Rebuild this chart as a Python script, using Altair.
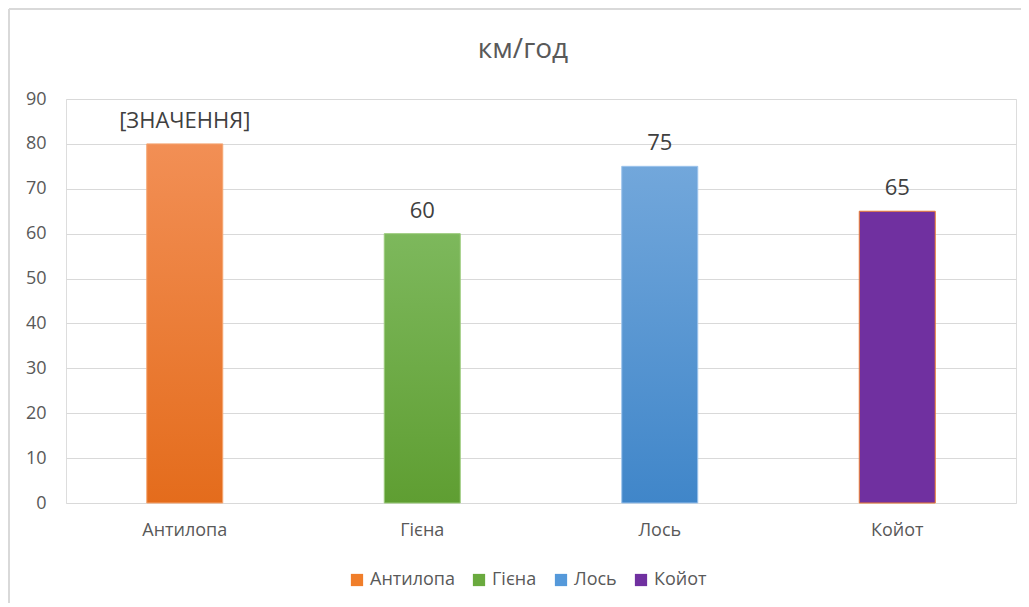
import altair as alt
import pandas as pd

animals = ["Антилопа", "Гієна", "Лось", "Койот"]
speeds = [80, 60, 75, 65]
labels = ["[ЗНАЧЕННЯ]", "60", "75", "65"]
top_colors = ["#F28F55", "#7DB85C", "#72A7DB", "#7030A0"]
bottom_colors = ["#E46C1C", "#5F9E32", "#4086C9", "#7030A0"]
stroke_colors = ["#F5A672", "#9CCB7C", "#9CC3EC", "#ED7D31"]
legend_colors = ["#F07E2A", "#6AAA3E", "#5599DA", "#7030A0"]
title_text = "км/год"

df = pd.DataFrame({"animal": animals, "speed": speeds, "label": labels})
title_df = pd.DataFrame({"t": [title_text]})

FONT = "Open Sans"
W, H = 950, 404

x_enc = alt.X("animal:N", sort=animals,
              scale=alt.Scale(paddingInner=0, paddingOuter=0),
              axis=alt.Axis(title=None, labelAngle=0, domain=False, ticks=False,
                            labelPadding=18, labelFontSize=18, labelColor="#595959",
                            labelFont=FONT))
y_enc = alt.Y("speed:Q", scale=alt.Scale(domain=[0, 90], nice=False),
              axis=alt.Axis(title=None, values=list(range(0, 100, 10)), domain=False,
                            ticks=False, labelPadding=20, labelFontSize=18,
                            labelColor="#595959", labelFont=FONT,
                            gridColor="#D9D9D9", gridWidth=1))

base = alt.Chart(df)

layers = []
for i, a in enumerate(animals):
    grad = alt.Gradient(gradient="linear", x1=0, x2=0, y1=0, y2=1,
                        stops=[alt.GradientStop(color=top_colors[i], offset=0),
                               alt.GradientStop(color=bottom_colors[i], offset=1)])
    layers.append(
        base.transform_filter(alt.datum.animal == a)
        .mark_bar(size=76, color=grad, stroke=stroke_colors[i], strokeWidth=1)
        .encode(x=x_enc, y=y_enc)
    )

legend_layer = base.mark_bar(size=76, opacity=0).encode(
    x=x_enc, y=y_enc,
    color=alt.Color("animal:N", sort=animals,
                    scale=alt.Scale(domain=animals, range=legend_colors),
                    legend=alt.Legend(title=None, orient="none", direction="horizontal",
                                      legendX=282, legendY=472, symbolType="square",
                                      symbolSize=150, symbolOpacity=1, symbolStrokeWidth=0,
                                      labelFontSize=18, labelColor="#595959", labelFont=FONT,
                                      labelOffset=4, columnPadding=15))
)

text_layer = base.mark_text(fontSize=22, color="#404040", font=FONT, baseline="alphabetic",
                            dy=-16).encode(x=x_enc, y=y_enc, text="label:N")

title_layer = alt.Chart(title_df).mark_text(
    fontSize=28, color="#595959", font=FONT, baseline="alphabetic", align="center"
).encode(x=alt.value(W / 2 - 18), y=alt.value(-41), text="t:N")

frame_left = alt.Chart(df).mark_rule(color="#D9D9D9", strokeWidth=1.5).encode(
    x=alt.value(-57), y=alt.value(-90), y2=alt.value(520))
frame_top = alt.Chart(df).mark_rule(color="#D9D9D9", strokeWidth=1.5).encode(
    x=alt.value(-57), x2=alt.value(960), y=alt.value(-90))

chart = alt.layer(frame_left, frame_top, *layers, legend_layer, text_layer, title_layer).properties(
    width=W, height=H,
    autosize=alt.AutoSizeParams(type="none"),
    padding={"left": 58, "top": 91, "right": 5, "bottom": 100},
).configure_view(stroke=None).configure(background="white")

chart.save("out.html", embed_options={"renderer": "svg", "actions": False})
